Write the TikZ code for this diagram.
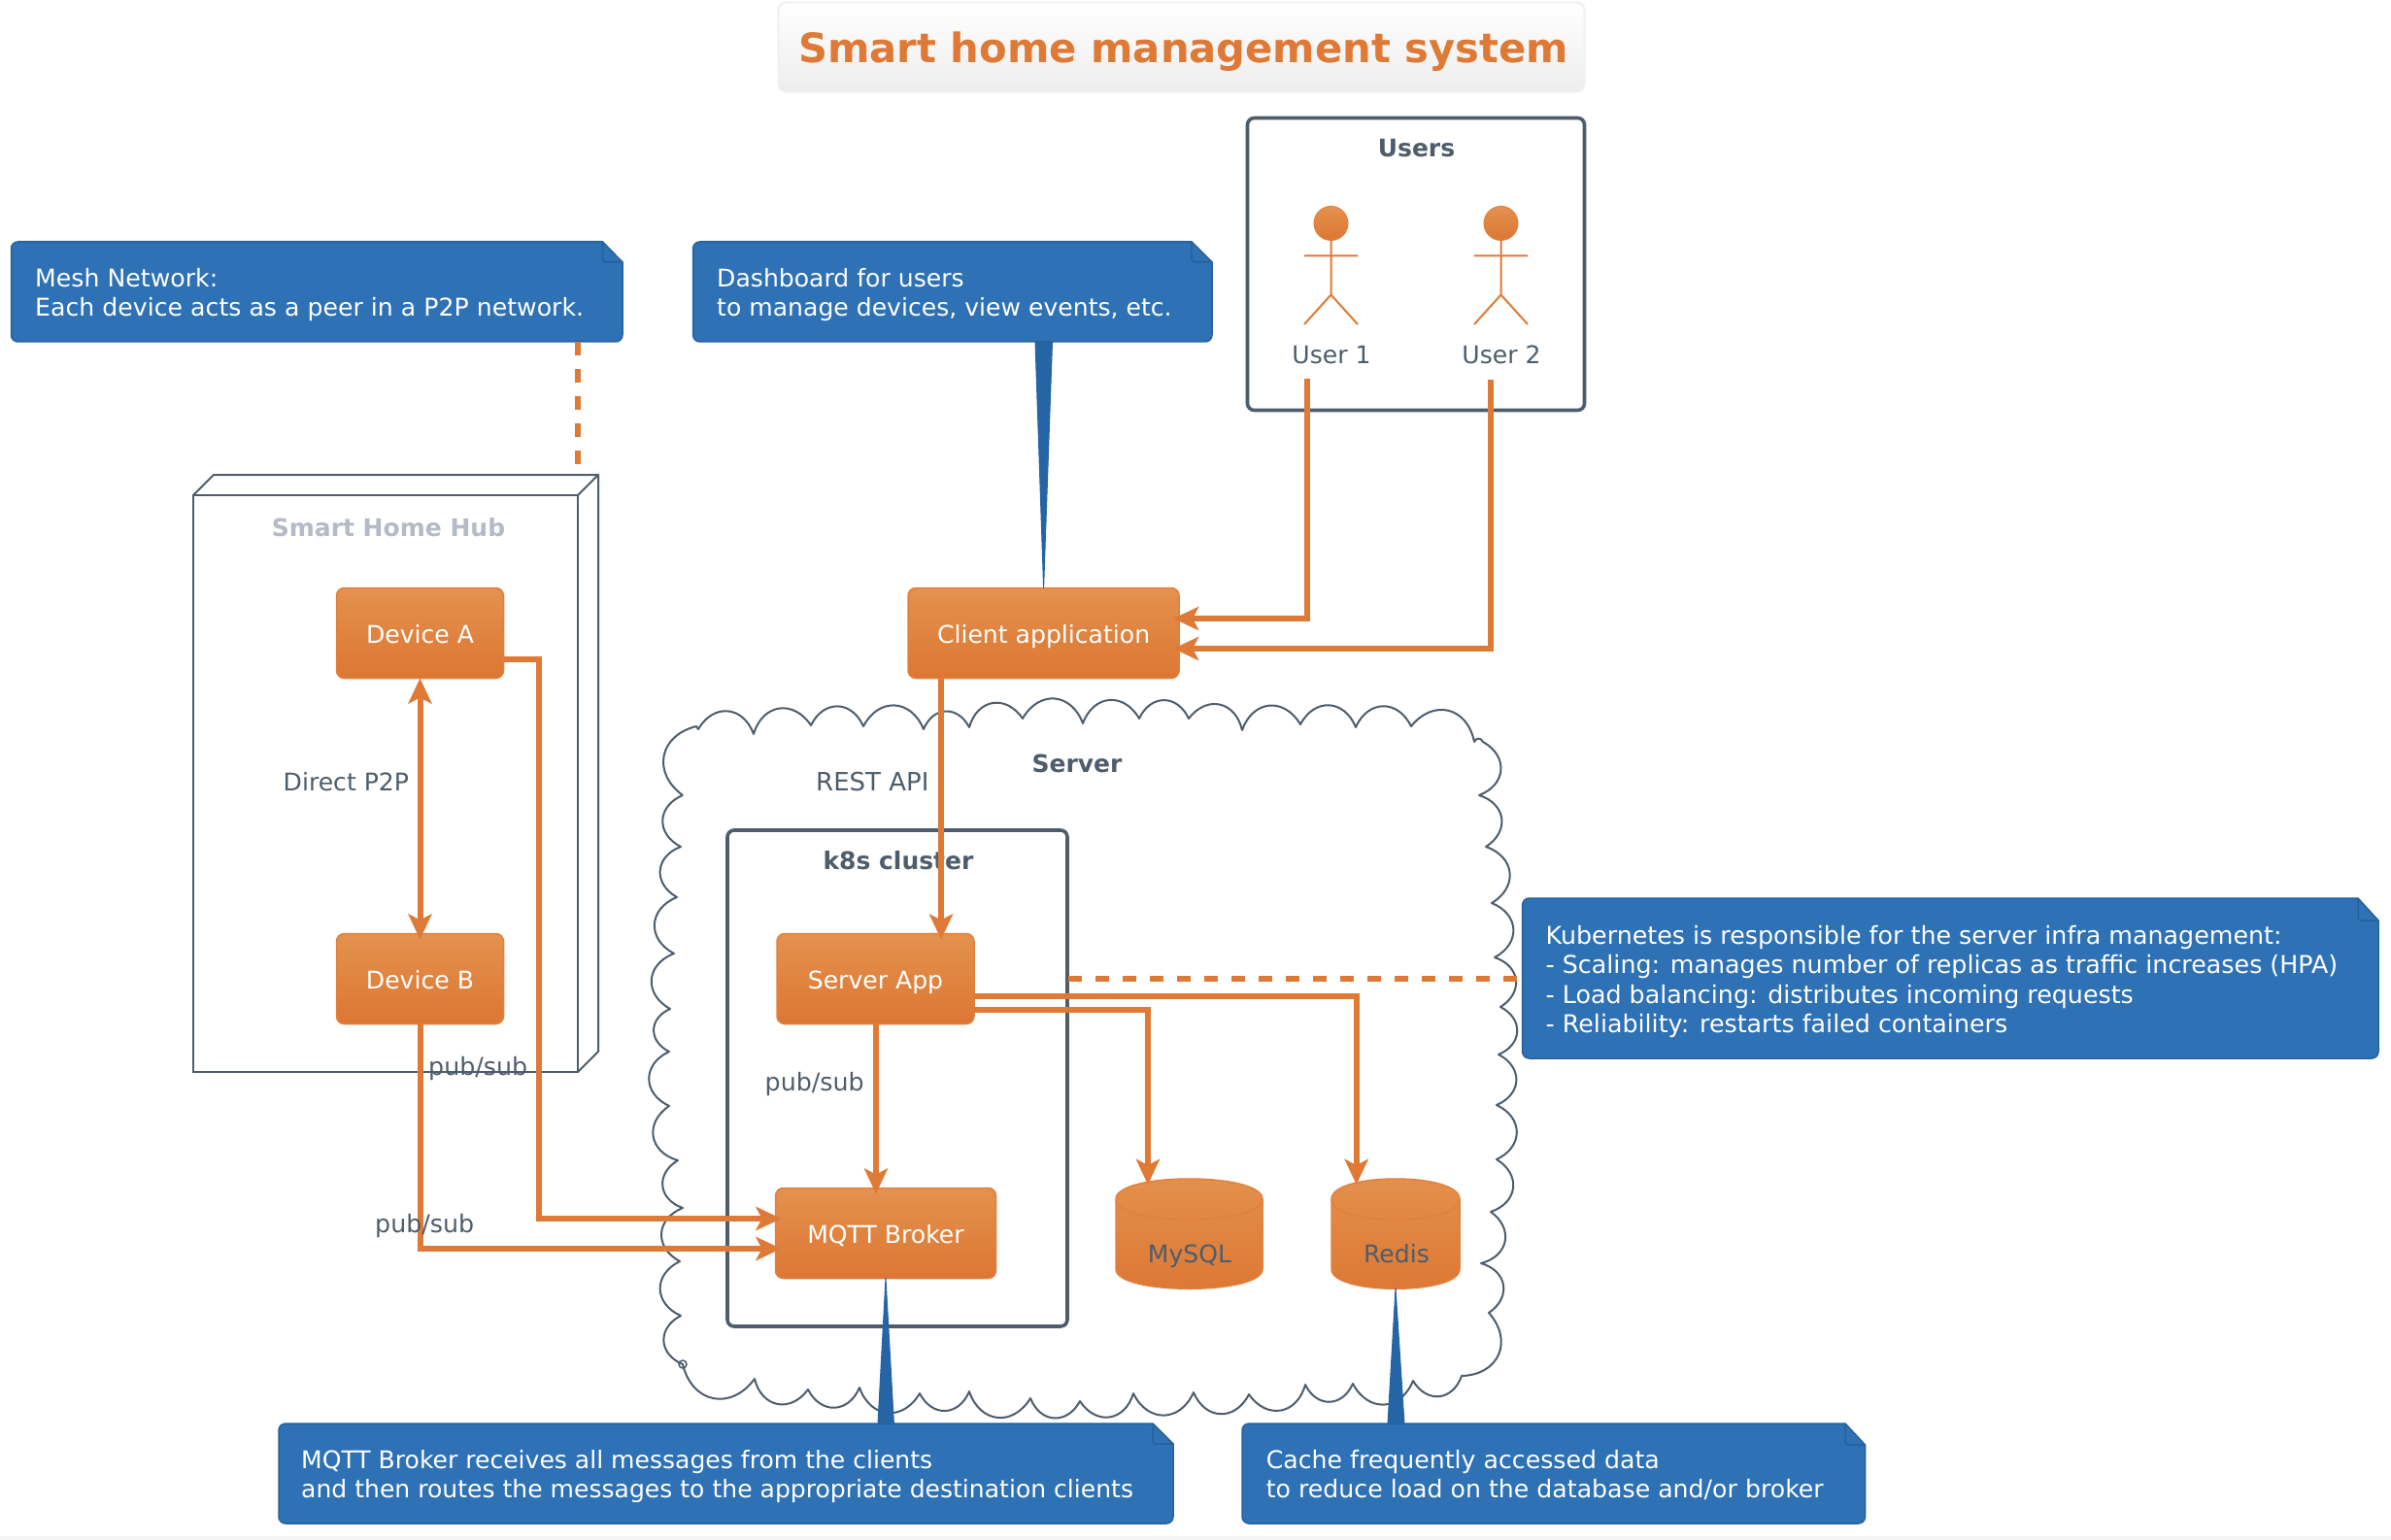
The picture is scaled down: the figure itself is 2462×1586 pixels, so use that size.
\documentclass[tikz,border=0pt]{standalone}
\usepackage{fontspec}
\setmainfont{DejaVu Sans}
\usetikzlibrary{arrows.meta,calc}
\definecolor{orn}{HTML}{DE7A36}
\definecolor{orntop}{HTML}{E4914F}
\definecolor{ornbot}{HTML}{DC7732}
\definecolor{ornedge}{HTML}{E2803D}
\definecolor{slate}{HTML}{4E5D6C}
\definecolor{faded}{HTML}{B4BBC6}
\definecolor{noteblue}{HTML}{2E71B4}
\definecolor{noteedge}{HTML}{27619D}
\definecolor{tailblue}{HTML}{2565A6}
\newcommand\regf{\fontsize{25.1}{30.5}\selectfont}
\newcommand\notef{\fontsize{25.2}{30.5}\selectfont}
\newcommand\bldf{\fontsize{25}{30.5}\selectfont\bfseries}
\newcommand\firstline{\rule{0pt}{20pt}}
% x0 y0 x1 y1 foldx foldy
\newcommand\notebody[6]{%
  \path[fill=noteblue,draw=noteedge,line width=1.5pt] [rounded corners=7pt] (#1,#4) -- (#1,#2) [sharp corners] -- (#5,#2) -- (#3,#6) [rounded corners=7pt] -- (#3,#4) -- cycle;
  \draw[noteedge,line width=1.5pt,rounded corners=3pt] (#5,#2) -- (#5,#6) -- (#3,#6);
}
\tikzset{
  tipA/.tip={Stealth[length=26pt,width=24pt,inset=6pt]},
  conn/.style={draw=orn,line width=6pt,-{tipA},shorten >=-6pt},
  dashconn/.style={draw=orn,line width=6.5pt,dash pattern=on 14pt off 14pt},
  comp/.style={rectangle,rounded corners=8pt,draw=ornedge,line width=1.5pt,top color=orntop,bottom color=ornbot,text=white,font=\regf,inner sep=0pt,outer sep=0pt,text height=21.5pt,text depth=0.5pt},
  group/.style={rectangle,rounded corners=7pt,draw=slate,line width=3.6pt,inner sep=0pt,outer sep=0pt},
  grouptitle/.style={font=\bldf,text=slate,inner sep=0pt,anchor=base},
  elabel/.style={font=\regf,text=slate,inner sep=0pt,anchor=base west},
  notetext/.style={font=\notef,text=white,inner sep=0pt,anchor=north west,align=left},
  ghost/.style={rectangle,inner sep=0pt,outer sep=0pt},
  tail/.style={fill=tailblue,draw=tailblue,line width=1pt,line join=round},
  actorline/.style={draw=orn,line width=2pt},
  head/.style={circle,draw=ornedge,line width=1pt,top color=orntop,bottom color=ornbot,minimum size=35pt,inner sep=0pt,outer sep=0pt},
  bump/.style={bend left=65,looseness=1.4},
  dbshape/.style={top color=orntop,bottom color=ornbot,draw=ornedge,line width=1.5pt},
  dbtext/.style={font=\regf,text=slate,inner sep=0pt,anchor=base},
}
\begin{document}
\begin{tikzpicture}[x=1pt,y=-1pt]
\useasboundingbox (0,0) rectangle (2462,1586);
\fill[white] (0,0) rectangle (2462,1586);
\fill[black!4] (0,1582) rectangle (2462,1586);

% title
\node[ghost,rounded corners=8pt,draw=black!6,line width=2pt,top color=white,bottom color=black!7,minimum width=830pt,minimum height=92pt] (titlebox) at (1216.5,48.5) {};
\node[inner sep=0pt,anchor=base west,text=orn,font=\fontsize{41.7}{50}\selectfont\bfseries] (title) at (822,65) {Smart home management system};

% server cloud
\draw[slate,line width=2pt,line join=round] (703,819) to[bump] (717,748) -- (719,751)
 to[bump] (776,756) to[bump] (835,747) to[bump] (889,748) to[bump] (951,751) to[bump] (998,749)
 to[bump] (1053,740) to[bump] (1115,745) to[bump] (1173,740) to[bump] (1224,740) to[bump] (1279,752)
 to[bump] (1339,746) to[bump] (1396,749) to[bump] (1453,748) to[bump] (1518,764) to[bump] (1527,764)
 to[bump] (1523,819) to[bump] (1530,872) to[bump] (1536,930) to[bump] (1539,986) to[bump] (1545,1037)
 to[bump] (1543,1086) to[bump] (1541,1138) to[bump] (1541,1194) to[bump] (1535,1248) to[bump] (1525,1301)
 to[bump] (1533,1352) to[bump] (1505,1417) to[bump] (1455,1422) to[bump] (1393,1425) to[bump] (1344,1426)
 to[bump] (1286,1436) to[bump] (1229,1434) to[bump] (1167,1435) to[bump] (1112,1443) to[bump] (1061,1440)
 to[bump] (998,1433) to[bump] (947,1435) to[bump] (885,1429) to[bump] (832,1431) to[bump] (777,1420)
 to[bump] (703,1405) to[bump] (701,1355) to[bump] (700,1299) to[bump] (703,1244) to[bump] (698,1195)
 to[bump] (689,1139) to[bump] (689,1083) to[bump] (690,1039) to[bump] (694,982) to[bump] (697,924)
 to[bump] (701,872) to[bump] (703,819);
\draw[slate,line width=1.5pt] (703,1405) circle[radius=4pt];
\node[grouptitle] (servertitle) at (1109,795) {Server};

% k8s
\node[group,minimum width=350pt,minimum height=511pt] (k8s) at (924,1110.5) {};
\node[grouptitle] (k8stitle) at (925,895) {k8s cluster};

% users
\node[group,minimum width=347pt,minimum height=301pt] (users) at (1458,272) {};
\node[grouptitle] (userstitle) at (1458.5,161.6) {Users};
\node[head] (u1head) at (1370.5,230) {};
\node[head] (u2head) at (1545.5,230) {};
\draw[actorline] (u1head.south) -- (1370.5,303.6) -- (1343,334) (1370.5,303.6) -- (1398,334) (1343,263.4) -- (1398,263.4);
\draw[actorline] (u2head.south) -- (1545.5,303.6) -- (1518,334) (1545.5,303.6) -- (1573,334) (1518,263.4) -- (1573,263.4);
\node[dbtext] (u1) at (1371,374) {User 1};
\node[dbtext] (u2) at (1546,374) {User 2};
\coordinate (u1out) at (1345.5,390);
\coordinate (u2out) at (1535,391);

% hub
\node[ghost,draw=slate,line width=2pt,minimum width=396pt,minimum height=594pt] (hub) at (397,807) {};
\draw[slate,line width=2pt,line join=round] (hub.north west) -- (220,489) -- (616,489) -- (616,1083) -- (hub.south east) (hub.north east) -- (616,489);
\node[grouptitle,text=faded] (hubtitle) at (400,552) {Smart Home Hub};

% notes geometry
\node[ghost,minimum width=629.5pt,minimum height=103pt] (nmesh) at (326.25,300.5) {};
\node[ghost,minimum width=534.4pt,minimum height=103pt] (ndash) at (980.8,300.5) {};
\node[ghost,minimum width=921pt,minimum height=103pt] (nmqtt) at (747.5,1517.5) {};
\node[ghost,minimum width=641.5pt,minimum height=103pt] (nredis) at (1599.75,1517.5) {};
\node[ghost,minimum width=881.4pt,minimum height=165pt] (nk8s) at (2008.3,1007.5) {};

% components
\node[comp,minimum width=172pt,minimum height=93pt] (devA) at (432.5,652) {Device A};
\node[comp,minimum width=172pt,minimum height=93pt] (devB) at (432.5,1008) {Device B};
\node[comp,minimum width=279pt,minimum height=93pt] (client) at (1074.6,652) {Client application};
\node[comp,minimum width=203pt,minimum height=93pt] (sapp) at (901.5,1008) {Server App};
\node[comp,minimum width=227pt,minimum height=93pt] (mqtt) at (912,1270) {MQTT Broker};

% databases
\node[ghost,minimum width=151pt,minimum height=113pt] (mysql) at (1224.5,1270.5) {};
\node[ghost,minimum width=132pt,minimum height=113pt] (redis) at (1437,1270.5) {};
\path[dbshape] (1149,1235) .. controls (1149,1207) and (1300,1207) .. (1300,1235) -- (1300,1307) .. controls (1300,1334) and (1149,1334) .. (1149,1307) -- cycle;
\draw[ornedge,line width=1.5pt] (1149,1235) .. controls (1149,1263) and (1300,1263) .. (1300,1235);
\path[dbshape] (1371,1235) .. controls (1371,1207) and (1503,1207) .. (1503,1235) -- (1503,1307) .. controls (1503,1334) and (1371,1334) .. (1371,1307) -- cycle;
\draw[ornedge,line width=1.5pt] (1371,1235) .. controls (1371,1263) and (1503,1263) .. (1503,1235);
\node[dbtext] (mysqllabel) at (1225,1300.5) {MySQL};
\node[dbtext] (redislabel) at (1438,1300.5) {Redis};

% note tails
\path[tail] (1066,352) -- (client.north) -- (1083.5,352) -- cycle;
\path[tail] (904,1466) -- (mqtt.south) -- (920.4,1466) -- cycle;
\path[tail] (1429,1466) -- (redis.south) -- (1446,1466) -- cycle;

% notes
\notebody{11.5}{249}{641}{352}{620.5}{270}
\node[notetext] (nmesht) at (36,275) {\firstline Mesh Network:\\Each device acts as a peer in a P2P network.};
\notebody{713.6}{249}{1248}{352}{1227}{270}
\node[notetext,font=\fontsize{25.1}{30.5}\selectfont] (ndasht) at (738,275) {\firstline Dashboard for users\\to manage devices, view events, etc.};
\notebody{287}{1466}{1208}{1569}{1187}{1487}
\node[notetext,font=\fontsize{25.07}{30.5}\selectfont] (nmqttt) at (310,1492) {\firstline MQTT Broker receives all messages from the clients\\and then routes the messages to the appropriate destination clients};
\notebody{1279}{1466}{1920.5}{1569}{1900}{1488}
\node[notetext] (nredist) at (1303.6,1492) {\firstline Cache frequently accessed data\\to reduce load on the database and/or broker};
\notebody{1567.6}{925}{2449}{1090}{2428}{948}
\node[notetext,font=\fontsize{25.33}{30.5}\selectfont] (nk8st) at (1591.5,952) {\firstline Kubernetes is responsible for the server infra management:\\- Scaling: manages number of replicas as traffic increases (HPA)\\- Load balancing: distributes incoming requests\\- Reliability: restarts failed containers};

% connectors
\coordinate (hubdash) at (595,478);
\draw[dashconn] (nmesh.south -| hubdash) -- (hubdash);
\coordinate (k8sdash) at (1100,1008);
\coordinate (k8snote) at (1562,1008);
\draw[dashconn] (k8sdash) -- (k8snote);
\draw[conn] (u1out) |- ([yshift=15pt]client.east);
\draw[conn] (u2out) |- ([yshift=-16pt]client.east);
\draw[conn] ([xshift=-105.6pt]client.south) -- ([xshift=-105.6pt]client.south |- sapp.north);
\draw[conn] ([xshift=0.5pt]sapp.south) -- ([xshift=0.5pt]sapp.south |- mqtt.north);
\draw[conn] ([yshift=-18pt]sapp.east) -| ([xshift=-40.3pt]redis.north);
\draw[conn] ([yshift=-32pt]sapp.east) -| ([xshift=-42.5pt]mysql.north);
\draw[conn,{tipA}-{tipA}] (devA.south) -- (devB.north);
\draw[conn] ([yshift=-26.5pt]devA.east) -- ++(36,0) |- ([yshift=15pt]mqtt.west);
\draw[conn] (devB.south) |- ([yshift=-16pt]mqtt.west);

% labels
\node[elabel,font=\fontsize{26}{30.5}\selectfont] (lrest) at (840,814) {REST API};
\node[elabel] (lp2p) at (291.5,814) {Direct P2P};
\node[elabel,font=\fontsize{25.3}{30.5}\selectfont] (lps1) at (441,1107) {pub/sub};
\node[elabel,font=\fontsize{25.3}{30.5}\selectfont] (lps2) at (386,1269) {pub/sub};
\node[elabel,font=\fontsize{25.3}{30.5}\selectfont] (lps3) at (787.5,1123) {pub/sub};
\end{tikzpicture}
\end{document}
